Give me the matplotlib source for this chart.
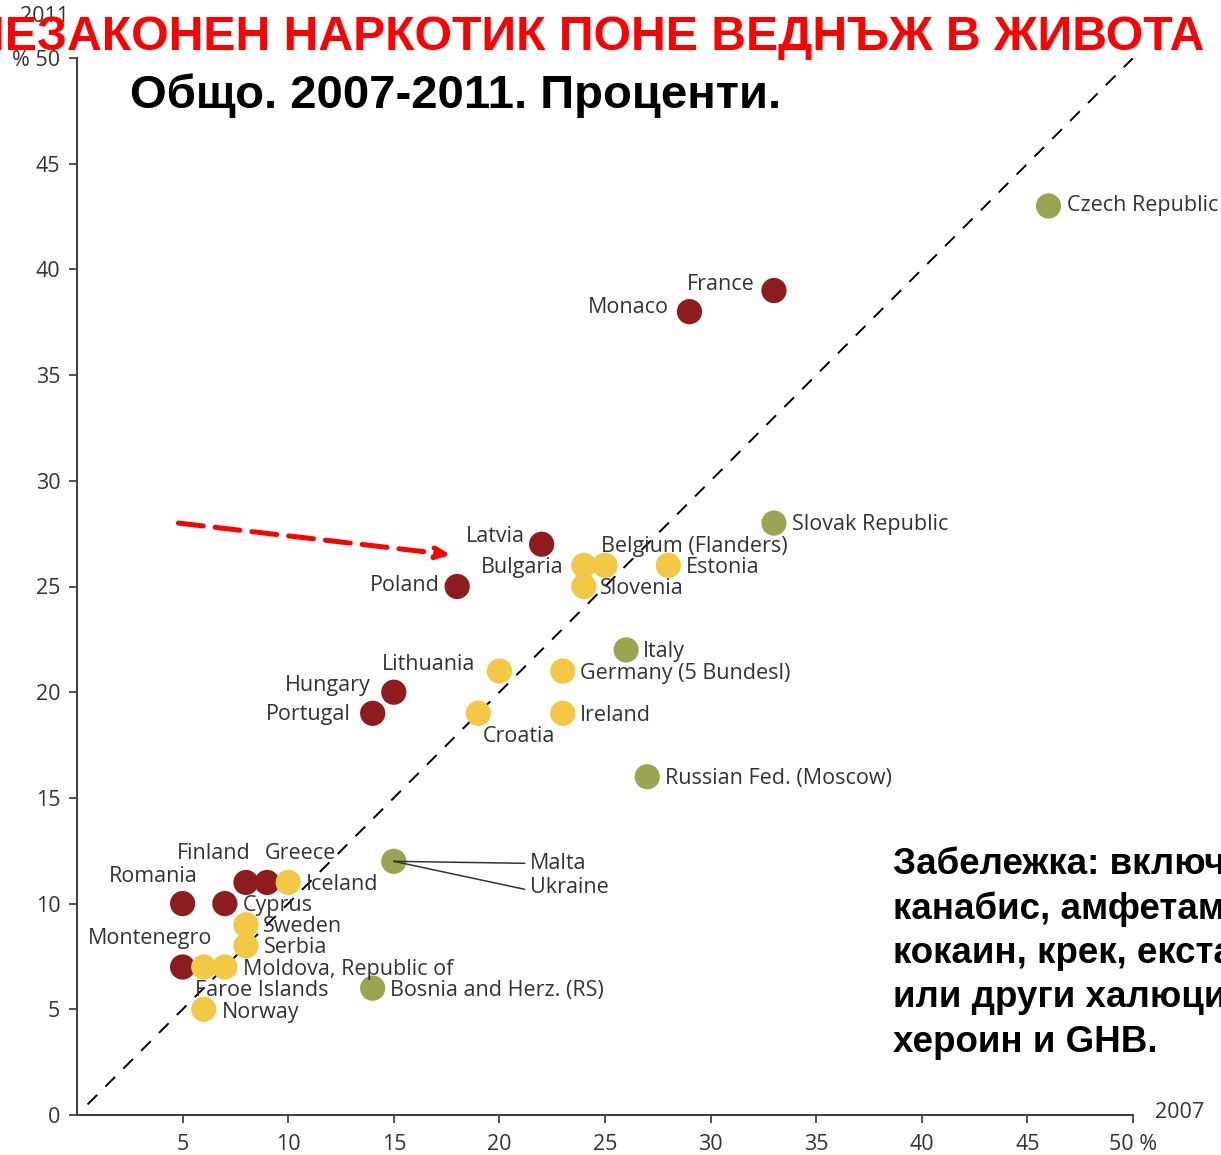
import matplotlib
matplotlib.use("Agg")
import matplotlib.pyplot as plt

# ---- data ----
countries_red = ["France", "Monaco", "Latvia", "Poland", "Hungary", "Portugal",
                 "Finland", "Greece", "Romania", "Cyprus", "Montenegro"]
x_red = [33, 29, 22, 18, 15, 14, 8, 9, 5, 7, 5]
y_red = [39, 38, 27, 25, 20, 19, 11, 11, 10, 10, 7]

countries_yellow = ["Bulgaria", "Belgium (Flanders)", "Slovenia", "Estonia", "Lithuania",
                    "Germany (5 Bundesl)", "Ireland", "Croatia", "Iceland", "Sweden",
                    "Serbia", "Faroe Islands", "Moldova, Republic of", "Norway"]
x_yellow = [24, 25, 24, 28, 20, 23, 23, 19, 10, 8, 8, 6, 7, 6]
y_yellow = [26, 26, 25, 26, 21, 21, 19, 19, 11, 9, 8, 7, 7, 5]

countries_green = ["Czech Republic", "Slovak Republic", "Italy", "Russian Fed. (Moscow)",
                   "Malta", "Bosnia and Herz. (RS)"]
x_green = [46, 33, 26, 27, 15, 14]
y_green = [43, 28, 22, 16, 12, 6]

xticks = [5, 10, 15, 20, 25, 30, 35, 40, 45, 50]
xticklabels = ["5", "10", "15", "20", "25", "30", "35", "40", "45", "50 %"]
yticks = [0, 5, 10, 15, 20, 25, 30, 35, 40, 45, 50]
yticklabels = ["0", "5", "10", "15", "20", "25", "30", "35", "40", "45", "% 50"]

title = "НЕЗАКОНЕН НАРКОТИК ПОНЕ ВЕДНЪЖ В ЖИВОТА"
subtitle = "Общо. 2007-2011. Проценти."
note = ("Забележка: включва\nканабис, амфетамини,\nкокаин, крек, екстази,\n"
        "или други халюциногени,\nхероин и GHB.")

# ---- label placement (offset pixels, horizontal alignment) ----
label_pos = {
    "Czech Republic": (18, 0, "left"),
    "France": (-19, 6, "right"),
    "Monaco": (-21, 4, "right"),
    "Slovak Republic": (18, -1, "left"),
    "Latvia": (-17, 8, "right"),
    "Belgium (Flanders)": (-4, 19, "left"),
    "Bulgaria": (-20, -2, "right"),
    "Estonia": (18, -2, "left"),
    "Slovenia": (16, -2, "left"),
    "Poland": (-17, 1, "right"),
    "Italy": (17, -2, "left"),
    "Lithuania": (-24, 7, "right"),
    "Germany (5 Bundesl)": (17, -2, "left"),
    "Hungary": (-23, 7, "right"),
    "Portugal": (-22, -1, "right"),
    "Ireland": (17, -2, "left"),
    "Croatia": (4, -23, "left"),
    "Russian Fed. (Moscow)": (18, -2, "left"),
    "Finland": (-69, 29, "left"),
    "Greece": (-2, 29, "left"),
    "Romania": (-74, 27, "left"),
    "Iceland": (18, -2, "left"),
    "Cyprus": (18, -2, "left"),
    "Sweden": (17, -2, "left"),
    "Montenegro": (-95, 29, "left"),
    "Serbia": (18, -2, "left"),
    "Moldova, Republic of": (18, -2, "left"),
    "Faroe Islands": (-9, -23, "left"),
    "Bosnia and Herz. (RS)": (17, -2, "left"),
    "Norway": (18, -3, "left"),
    "Malta": (136, -2, "left"),
}

RED = "#8e1c1e"
YELLOW = "#f3c845"
GREEN = "#9ba451"
TXT = "#333333"
LFONT = "Open Sans"
LSIZE = 15.5

fig = plt.figure(figsize=(12.21, 11.55), dpi=100)
ax = fig.add_axes([77 / 1221, 1 - 1115 / 1155, (1133 - 77) / 1221, (1115 - 58) / 1155])
ax.set_xlim(0, 50)
ax.set_ylim(0, 50)

# diagonal
ax.plot([0.5, 50], [0.5, 50], color="black", lw=1.4, dashes=(7, 6), zorder=1)

S = 330
for xs, ys, c in [(x_red, y_red, RED), (x_yellow, y_yellow, YELLOW), (x_green, y_green, GREEN)]:
    ax.scatter(xs, ys, s=S, color=c, edgecolors="none", zorder=3)

def put_labels(names, xs, ys):
    for n, x, y in zip(names, xs, ys):
        dx, dy, ha = label_pos[n]
        ax.annotate(n, (x, y), xytext=(dx, dy), textcoords="offset pixels",
                    ha=ha, va="center", fontsize=LSIZE, family=LFONT, color=TXT, zorder=4)

put_labels(countries_red, x_red, y_red)
put_labels(countries_yellow, x_yellow, y_yellow)
put_labels(countries_green, x_green, y_green)

# Ukraine shares Malta's point
mx, my = x_green[countries_green.index("Malta")], y_green[countries_green.index("Malta")]
ax.annotate("Ukraine", (mx, my), xytext=(136, -26), textcoords="offset pixels",
            ha="left", va="center", fontsize=LSIZE, family=LFONT, color=TXT, zorder=4)
ax.annotate("", (mx, my), xytext=(131, -2), textcoords="offset pixels",
            arrowprops=dict(arrowstyle="-", color="#333333", lw=1.1, shrinkA=0, shrinkB=0))
ax.annotate("", (mx, my), xytext=(131, -28), textcoords="offset pixels",
            arrowprops=dict(arrowstyle="-", color="#333333", lw=1.1, shrinkA=0, shrinkB=0))

# axes styling
for s in ["top", "right"]:
    ax.spines[s].set_visible(False)
for s in ["left", "bottom"]:
    ax.spines[s].set_color("#444444")
    ax.spines[s].set_linewidth(1.5)
ax.set_xticks(xticks)
ax.set_xticklabels(xticklabels)
ax.set_yticks(yticks)
ax.set_yticklabels(yticklabels)
ax.tick_params(axis="both", direction="out", length=6, width=1.3, color="#444444",
               labelsize=LSIZE, labelcolor=TXT)
for lab in ax.get_xticklabels() + ax.get_yticklabels():
    lab.set_family(LFONT)
ax.tick_params(axis="x", pad=8)
ax.tick_params(axis="y", pad=6)

fig.text(1155 / 1221, 1 - 1113 / 1155, "2007", ha="left", va="center",
         fontsize=LSIZE, family=LFONT, color=TXT)
fig.text(20 / 1221, 1 - 16 / 1155, "2011", ha="left", va="center",
         fontsize=LSIZE, family=LFONT, color=TXT)

# red arrow
ax.annotate("", xy=(17.7, 26.5), xytext=(4.8, 28.0),
            arrowprops=dict(arrowstyle="-|>,head_length=0.8,head_width=0.35", color="#ff0000",
                            lw=3.6, linestyle=(0, (5, 2.4)), shrinkA=0, shrinkB=0))

# titles
fig.text(587 / 1221, 1 - 38 / 1155, title, ha="center", va="center",
         fontsize=34.7, fontweight="bold", family="Liberation Sans", color="#ff0000")
fig.text(130 / 1221, 1 - 96 / 1155, subtitle, ha="left", va="center",
         fontsize=34, fontweight="bold", family="Liberation Sans", color="black")
fig.text(893 / 1221, 1 - 847 / 1155, note, ha="left", va="top", linespacing=1.34,
         fontsize=26.5, fontweight="bold", family="Liberation Sans", color="black")

fig.savefig("out.png", dpi=100, facecolor="white")
